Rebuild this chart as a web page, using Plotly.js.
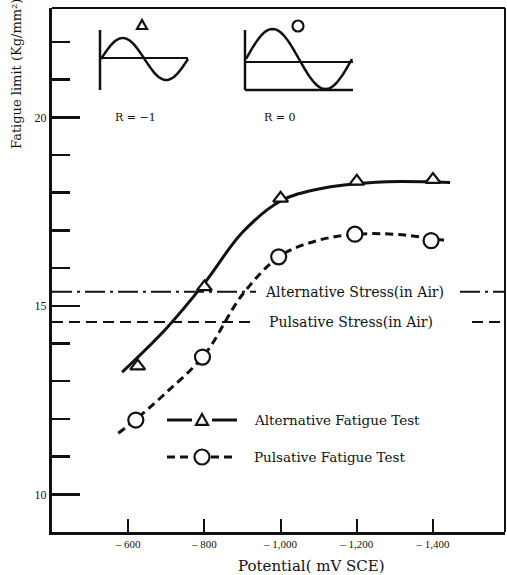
<!DOCTYPE html>
<html><head><meta charset="utf-8">
<script src="https://cdn.plot.ly/plotly-3.0.1.min.js"></script>
<style>html,body{margin:0;padding:0;background:#fff}</style>
</head><body><div id="chart" style="width:507px;height:575px"></div>
<script>
// ---- data ----
const xTickVals = [-600, -800, -1000, -1200, -1400];
const xTickText = ['– 600', '– 800', '– 1,000', '– 1,200', '– 1,400'];
const yTickVals = [10, 15, 20];
const yTickText = ['10', '15', '20'];

const altPotential = [-625, -800, -1000, -1200, -1400];
const altLimit = [13.4, 15.5, 17.85, 18.3, 18.35];
const pulPotential = [-620, -795, -995, -1195, -1395];
const pulLimit = [11.97, 13.64, 16.3, 16.9, 16.73];

const altCurvePotential = [-584, -700, -800, -900, -1000, -1100, -1250, -1445];
const altCurveLimit = [13.24, 14.4, 15.6, 16.95, 17.78, 18.1, 18.28, 18.27];
const pulCurvePotential = [-574, -618, -700, -800, -900, -1000, -1100, -1200, -1310, -1429];
const pulCurveLimit = [11.62, 11.97, 12.7, 13.7, 15.3, 16.33, 16.74, 16.9, 16.89, 16.74];

const airAltStress = 15.37;
const airPulStress = 14.57;

const labelAltAir = 'Alternative Stress(in Air)';
const labelPulAir = 'Pulsative Stress(in Air)';
const labelAltTest = 'Alternative Fatigue Test';
const labelPulTest = 'Pulsative Fatigue Test';

// ---- layout helpers (pixel -> paper) ----
const W = 507, H = 575, ML = 52, MR = 2, MT = 8, MB = 43;
const PW = W - ML - MR, PH = H - MT - MB;
const px = x => (x - ML) / PW;
const py = y => (H - MB - y) / PH;
const FONT = 'Liberation Serif, Times New Roman, serif';
const DFONT = 'DejaVu Serif, serif';
const INK = '#111';

function polyPath(pts) {
  return pts.map((p, i) => (i ? 'L' : 'M') + px(p[0]).toFixed(5) + ',' + py(p[1]).toFixed(5)).join(' ');
}
function wave(x0, x1, yc, amp) {
  const pts = [];
  const n = 60;
  for (let i = 0; i <= n; i++) {
    const t = i / n;
    pts.push([x0 + (x1 - x0) * t, yc - amp * Math.sin(2 * Math.PI * t)]);
  }
  return polyPath(pts);
}
function line(x0, y0, x1, y1, w, dash) {
  return {type: 'line', xref: 'paper', yref: 'paper', x0: px(x0), y0: py(y0), x1: px(x1), y1: py(y1),
    line: {color: INK, width: w, dash: dash || 'solid'}};
}
function tri(cx, cy, s) {
  return {type: 'path', xref: 'paper', yref: 'paper', xsizemode: 'pixel', ysizemode: 'pixel',
    xanchor: px(cx), yanchor: py(cy),
    path: `M ${-s},${-s*0.8} L ${s},${-s*0.8} L 0,${s} Z`,
    fillcolor: 'white', line: {color: INK, width: 2.2}};
}
function circ(cx, cy, r) {
  return {type: 'circle', xref: 'paper', yref: 'paper', xsizemode: 'pixel', ysizemode: 'pixel',
    xanchor: px(cx), yanchor: py(cy), x0: -r, x1: r, y0: -r, y1: r,
    fillcolor: 'white', line: {color: INK, width: 2.2}};
}
function ann(text, x, y, size, xanchor, extra, family) {
  return Object.assign({text: text, xref: 'paper', yref: 'paper', x: px(x), y: py(y),
    xanchor: xanchor || 'center', yanchor: 'middle', showarrow: false,
    font: {family: family || DFONT, size: size, color: INK}}, extra || {});
}

const traces = [
  {x: altCurvePotential, y: altCurveLimit, mode: 'lines', line: {shape: 'spline', smoothing: 1, color: INK, width: 3}, hoverinfo: 'skip'},
  {x: pulCurvePotential, y: pulCurveLimit, mode: 'lines', line: {shape: 'spline', smoothing: 1, color: INK, width: 3, dash: '8px,5px'}, hoverinfo: 'skip'},
  {x: altPotential, y: altLimit, mode: 'markers', name: labelAltTest,
   marker: {symbol: 'triangle-up', size: 13, color: 'white', line: {color: INK, width: 2.2}}},
  {x: pulPotential, y: pulLimit, mode: 'markers', name: labelPulTest,
   marker: {symbol: 'circle', size: 15, color: 'white', line: {color: INK, width: 2.2}}}
];

const shapes = [
  // thinner top and right frame
  {type: 'line', xref: 'paper', yref: 'paper', x0: 0, x1: 1, y0: 1, y1: 1, line: {color: INK, width: 2}},
  {type: 'line', xref: 'paper', yref: 'paper', x0: 1, x1: 1, y0: 0, y1: 1, line: {color: INK, width: 2}},
  // in-air stress levels
  {type: 'line', xref: 'paper', yref: 'y', x0: 0, x1: px(256), y0: airAltStress, y1: airAltStress, line: {color: INK, width: 2, dash: '20px,5px,3px,5px'}},
  {type: 'line', xref: 'paper', yref: 'y', x0: px(460), x1: 1, y0: airAltStress, y1: airAltStress, line: {color: INK, width: 2, dash: '20px,5px,3px,5px'}},
  {type: 'line', xref: 'paper', yref: 'y', x0: 0, x1: px(256), y0: airPulStress, y1: airPulStress, line: {color: INK, width: 2, dash: '11px,6px'}},
  {type: 'line', xref: 'paper', yref: 'y', x0: px(472), x1: 1, y0: airPulStress, y1: airPulStress, line: {color: INK, width: 2, dash: '11px,6px'}},
  // R = -1 schematic
  line(100, 30, 100, 90, 2.5),
  line(100, 58, 188, 58, 2),
  {type: 'path', xref: 'paper', yref: 'paper', path: wave(101, 188, 59, 21), line: {color: INK, width: 2.5}},
  tri(142, 25, 5),
  // R = 0 schematic
  line(245, 30, 245, 90, 2.5),
  line(245, 62, 353, 62, 2),
  line(245, 90, 353, 90, 2.5),
  {type: 'path', xref: 'paper', yref: 'paper', path: wave(246, 352, 59, 30), line: {color: INK, width: 2.5}},
  circ(298, 26, 5.5),
  // legend samples
  line(167, 420, 192, 420, 3),
  line(212, 420, 237, 420, 3),
  tri(202, 420, 6),
  line(167, 457, 193, 457, 3, '8px,5px'),
  line(211, 457, 237, 457, 3, '8px,5px'),
  circ(202, 457, 7.5)
];

const annotations = [
  ann('R = −1', 135, 118, 11),
  ann('R = 0', 280, 118, 11),
  ann(labelAltAir, 263, 292, 14, 'left'),
  ann(labelPulAir, 267, 322, 14, 'left'),
  ann(labelAltTest, 252, 420, 13.5, 'left'),
  ann(labelPulTest, 252, 457, 13.5, 'left'),
  ann('Fatigue limit (Kg/mm²)', 16, 74, 13, 'center', {textangle: -90}),
  ann('Potential( mV SCE)', 311, 566, 15)
];

const layout = {
  width: W, height: H,
  margin: {l: ML, r: MR, t: MT, b: MB, pad: 0},
  paper_bgcolor: 'white', plot_bgcolor: 'white',
  showlegend: false,
  font: {family: FONT, color: INK},
  xaxis: {
    range: [-400, -1589], tickvals: xTickVals, ticktext: xTickText,
    ticks: 'inside', ticklen: 13, tickwidth: 2, tickcolor: INK,
    showline: true, linewidth: 3, linecolor: INK, mirror: false,
    showgrid: false, zeroline: false,
    tickfont: {family: FONT, size: 11, color: INK}
  },
  yaxis: {
    range: [9, 22.9], tickvals: yTickVals, ticktext: yTickText,
    ticks: 'inside', ticklen: 28, tickwidth: 2.5, tickcolor: INK,
    minor: {dtick: 1, tick0: 0, ticks: 'inside', ticklen: 18, tickwidth: 2.5, tickcolor: INK, showgrid: false},
    showline: true, linewidth: 3, linecolor: INK, mirror: false,
    showgrid: false, zeroline: false,
    tickfont: {family: FONT, size: 12, color: INK}
  },
  shapes: shapes,
  annotations: annotations
};

Plotly.newPlot('chart', traces, layout, {displayModeBar: false, staticPlot: true});
</script>
</body></html>
